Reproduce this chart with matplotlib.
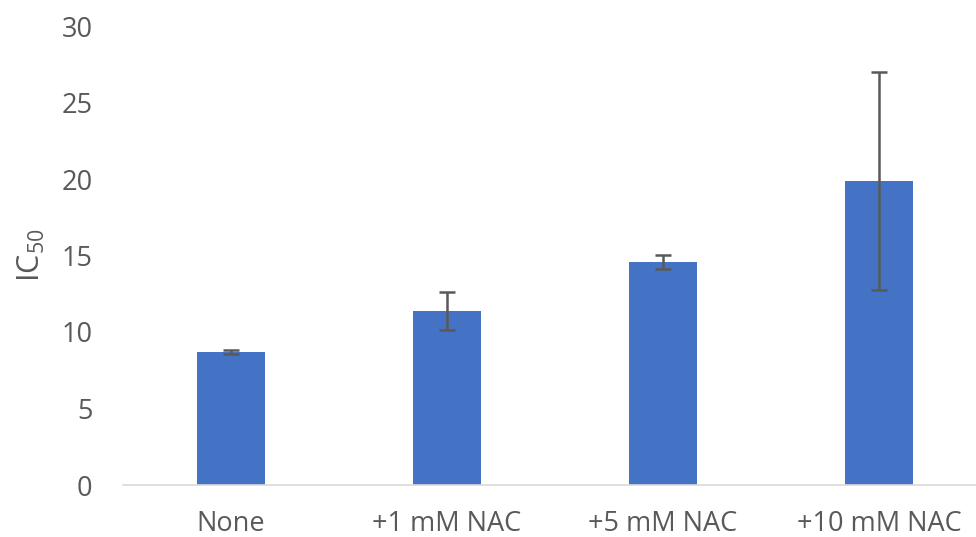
import numpy as np
import matplotlib.pyplot as plt

plt.rcParams['font.family'] = ['Open Sans', 'DejaVu Sans']
plt.rcParams['mathtext.fontset'] = 'custom'
plt.rcParams['mathtext.rm'] = 'Open Sans'

categories = ["None", "+1 mM NAC", "+5 mM NAC", "+10 mM NAC"]
ic50 = [8.69, 11.37, 14.58, 19.87]
ic50_err = [0.15, 1.24, 0.43, 7.12]

grey = "#595959"

fig = plt.figure(figsize=(9.76, 5.37), dpi=100)
ax = fig.add_axes([123 / 976, 1 - 485 / 537, 864 / 976, (485 - 26) / 537])

x = np.arange(len(categories))
ax.bar(x, ic50, width=0.315, color="#4472C4", zorder=2)
ax.errorbar(x, ic50, yerr=ic50_err, fmt="none", ecolor=grey,
            elinewidth=1.8, capsize=6, capthick=1.8, zorder=3)

ax.set_xlim(-0.5, 3.5)
ax.set_ylim(0, 30)
ax.set_yticks([0, 5, 10, 15, 20, 25, 30])
ax.set_xticks(x)
ax.set_xticklabels(categories)
ax.tick_params(axis="both", length=0, labelsize=19.5, colors=grey)
ax.tick_params(axis="y", pad=22)
ax.tick_params(axis="x", pad=18)

for side in ["top", "right", "left"]:
    ax.spines[side].set_visible(False)
ax.spines["bottom"].set_color("#d9d9d9")
ax.spines["bottom"].set_linewidth(1.2)

ax.set_ylabel(r"IC$_{\mathrm{50}}$", fontsize=22, color=grey, labelpad=10)

fig.savefig("out.png", dpi=100)
